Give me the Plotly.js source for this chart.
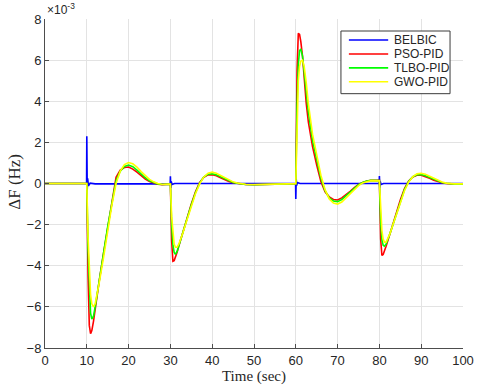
<!DOCTYPE html>
<html>
<head>
<meta charset="utf-8">
<script src="https://cdn.plot.ly/plotly-3.0.1.min.js"></script>
<style>
  body { margin: 0; background: #fff; }
  #plot { width: 480px; height: 385px; }
</style>
</head>
<body>
<div id="plot"></div>
<script>
// values are in units of 1e-3 Hz (axis carries the x10^-3 multiplier)
const time = [
  0, 10,
  10.3, 10.6, 10.9, 11.2, 11.6, 12, 12.5, 13, 14, 15, 16, 17, 18, 19, 20, 21, 22, 23, 24, 25, 26, 27, 28, 30,
  30.3, 30.6, 30.9, 31.2, 31.6, 32, 32.5, 33, 34, 35, 36, 37, 38, 39, 40, 41, 42, 43, 44, 45, 46, 47, 48, 50,
  52, 55, 58, 60,
  60.3, 60.6, 60.9, 61.2, 61.6, 62, 62.5, 63, 64, 65, 66, 67, 68, 69, 70, 71, 72, 73, 74, 75, 76, 77, 78, 80,
  80.3, 80.6, 80.9, 81.2, 81.6, 82, 82.5, 83, 84, 85, 86, 87, 88, 89, 90, 91, 92, 93, 94, 95, 96, 97, 98, 100
];

const psoPid = [
  0, 0,
  -4.5, -6.9, -7.3, -7.15, -6.7, -6.1, -5.4, -4.7, -3.4, -2.1, -0.85, 0.3, 0.65, 0.78, 0.8, 0.7, 0.55, 0.38, 0.22, 0.1, 0.02, -0.04, -0.06, -0.03,
  -2.8, -3.78, -3.75, -3.6, -3.35, -3.05, -2.7, -2.35, -1.65, -1.0, -0.4, 0.05, 0.3, 0.42, 0.43, 0.38, 0.28, 0.18, 0.1, 0.04, 0.0, -0.03, -0.05, -0.06,
  -0.05, -0.03, -0.02, -0.01,
  5.5, 7.3, 7.25, 6.9, 6.2, 5.1, 3.9, 3.0, 1.8, 0.9, 0.1, -0.4, -0.65, -0.78, -0.8, -0.7, -0.55, -0.38, -0.2, -0.05, 0.05, 0.12, 0.15, 0.15,
  -2.7, -3.5, -3.45, -3.3, -3.05, -2.8, -2.45, -2.1, -1.45, -0.8, -0.25, 0.12, 0.32, 0.4, 0.4, 0.34, 0.25, 0.16, 0.09, 0.04, 0.0, -0.02, -0.03, -0.03
];

const tlboPid = [
  0, 0,
  -3.2, -5.4, -6.3, -6.6, -6.45, -6.0, -5.4, -4.7, -3.4, -2.1, -0.9, 0.15, 0.6, 0.83, 0.9, 0.82, 0.65, 0.46, 0.28, 0.13, 0.04, -0.02, -0.05, -0.03,
  -2.0, -3.0, -3.35, -3.45, -3.3, -3.05, -2.75, -2.4, -1.7, -1.05, -0.45, 0.02, 0.32, 0.45, 0.47, 0.42, 0.32, 0.21, 0.12, 0.05, 0.01, -0.03, -0.05, -0.06,
  -0.05, -0.03, -0.02, -0.01,
  3.8, 5.8, 6.45, 6.55, 6.2, 5.5, 4.5, 3.5, 2.1, 1.1, 0.25, -0.35, -0.7, -0.85, -0.88, -0.78, -0.6, -0.4, -0.22, -0.06, 0.05, 0.12, 0.15, 0.14,
  -1.9, -2.75, -3.0, -3.05, -2.95, -2.75, -2.45, -2.15, -1.5, -0.85, -0.3, 0.1, 0.33, 0.43, 0.44, 0.38, 0.29, 0.19, 0.11, 0.05, 0.01, -0.02, -0.03, -0.03
];

const gwoPid = [
  0, 0,
  -2.6, -4.5, -5.4, -5.85, -6.0, -5.85, -5.4, -4.8, -3.6, -2.3, -1.05, 0.0, 0.6, 0.92, 1.02, 0.96, 0.8, 0.58, 0.38, 0.2, 0.08, 0.0, -0.04, -0.03,
  -1.6, -2.5, -2.95, -3.1, -3.1, -2.95, -2.7, -2.4, -1.75, -1.1, -0.5, -0.02, 0.32, 0.5, 0.55, 0.5, 0.4, 0.28, 0.17, 0.08, 0.02, -0.02, -0.04, -0.05,
  -0.05, -0.03, -0.02, -0.01,
  3.2, 5.0, 5.7, 5.95, 6.0, 5.7, 4.9, 3.9, 2.4, 1.3, 0.4, -0.3, -0.75, -0.95, -1.0, -0.9, -0.7, -0.48, -0.27, -0.1, 0.03, 0.1, 0.14, 0.13,
  -1.5, -2.3, -2.7, -2.85, -2.85, -2.7, -2.45, -2.15, -1.55, -0.9, -0.35, 0.07, 0.33, 0.47, 0.5, 0.45, 0.35, 0.24, 0.14, 0.07, 0.02, -0.01, -0.02, -0.02
];

const belbicTime = [0, 9.95, 10, 10.1, 10.2, 10.4, 10.8, 12,
  29.95, 30, 30.1, 30.2, 30.4, 31,
  59.95, 60, 60.1, 60.2, 60.4, 61,
  79.95, 80, 80.1, 80.2, 80.4, 81, 100];
const belbic = [0, 0, 2.3, -0.3, 0.25, -0.12, 0.02, -0.02,
  -0.02, 0.35, -0.22, 0.1, -0.05, 0,
  0, -0.75, 0.22, -0.1, 0.05, 0,
  0, 0.36, -0.2, 0.1, -0.05, 0, 0];

const names = ['BELBIC', 'PSO-PID', 'TLBO-PID', 'GWO-PID'];
const colors = ['#0000ff', '#ff0000', '#00ff00', '#ffff00'];
const yTicks = [-8, -6, -4, -2, 0, 2, 4, 6, 8];
const xTicks = [0, 10, 20, 30, 40, 50, 60, 70, 80, 90, 100];

const series = [
  [belbicTime, belbic],
  [time, psoPid],
  [time, tlboPid],
  [time, gwoPid]
];

const data = series.map((s, i) => ({
  x: s[0],
  y: s[1],
  name: names[i],
  mode: 'lines',
  line: {color: colors[i], width: 1.6}
}));

const sansFont = 'Liberation Sans, Arial, sans-serif';
const serifFont = 'Liberation Serif, Times New Roman, serif';

const axisCommon = {
  showline: true,
  linecolor: '#4d4d4d',
  linewidth: 1,
  ticks: 'inside',
  ticklen: 4,
  tickcolor: '#4d4d4d',
  showgrid: true,
  gridcolor: '#e3e3e3',
  zeroline: false,
  tickfont: {family: sansFont, size: 13, color: '#262626'}
};

// matlab style legend box, drawn with shapes + annotations
const shapes = [{
  type: 'rect', xref: 'paper', yref: 'paper',
  x0: 0.708, x1: 0.969, y0: 0.773, y1: 0.9635,
  fillcolor: '#fff', line: {color: '#3a3a3a', width: 1}, layer: 'above'
}];
const annotations = [{
  text: '\u00d710<sup>-3</sup>',
  xref: 'paper', yref: 'paper',
  x: 0, y: 1, xanchor: 'left', yanchor: 'bottom',
  showarrow: false,
  font: {family: sansFont, size: 12, color: '#262626'}
}, {
  text: '\u0394F (Hz)',
  xref: 'paper', yref: 'paper',
  x: -0.072, y: 0.505, xanchor: 'center', yanchor: 'middle',
  textangle: -90,
  showarrow: false,
  font: {family: serifFont, size: 17, color: '#262626'}
}];

names.forEach((n, i) => {
  const ly = 0.936 - i * 0.0423;
  shapes.push({
    type: 'line', xref: 'paper', yref: 'paper',
    x0: 0.727, x1: 0.821, y0: ly, y1: ly,
    line: {color: colors[i], width: 1.6}, layer: 'above'
  });
  annotations.push({
    text: n, xref: 'paper', yref: 'paper',
    x: 0.829, y: ly, xanchor: 'left', yanchor: 'middle',
    showarrow: false,
    font: {family: sansFont, size: 12, color: '#262626'}
  });
});

const layout = {
  width: 480,
  height: 385,
  margin: {l: 45, r: 17, t: 19, b: 37},
  paper_bgcolor: '#fff',
  plot_bgcolor: '#fff',
  showlegend: false,
  xaxis: Object.assign({}, axisCommon, {
    range: [0, 100],
    tickvals: xTicks,
    title: {text: 'Time (sec)', font: {family: serifFont, size: 15, color: '#262626'}, standoff: 2}
  }),
  yaxis: Object.assign({}, axisCommon, {
    range: [-8, 8],
    tickvals: yTicks
  }),
  shapes: shapes,
  annotations: annotations
};

Plotly.newPlot('plot', data, layout, {staticPlot: true});
</script>
</body>
</html>
